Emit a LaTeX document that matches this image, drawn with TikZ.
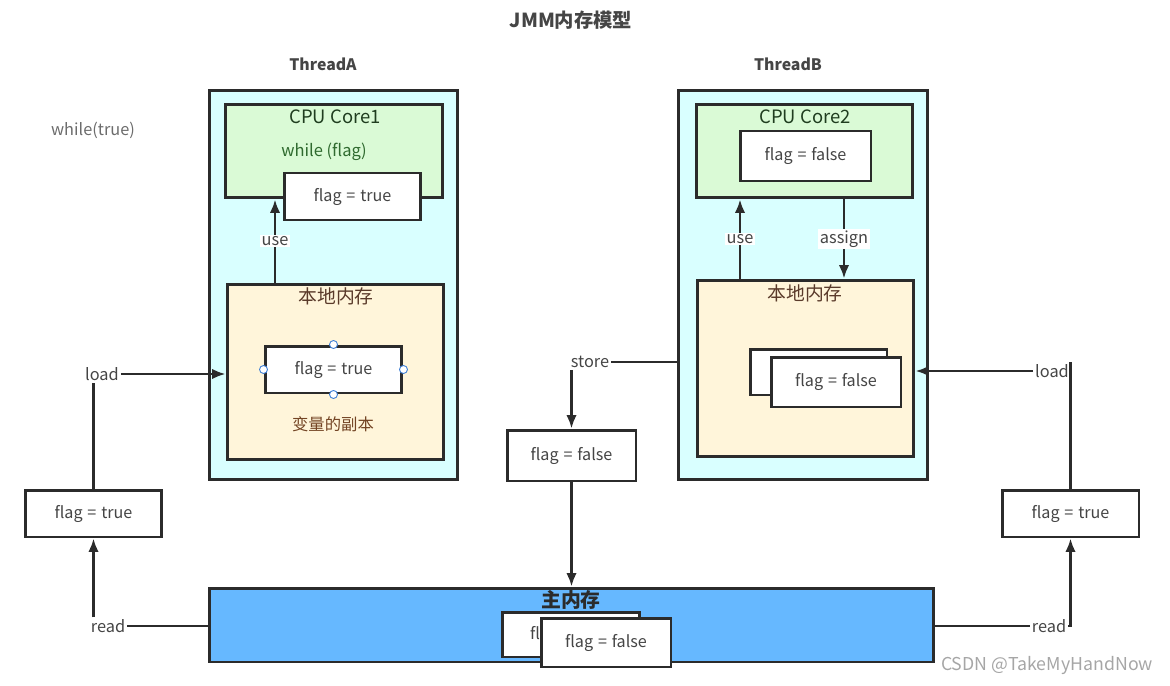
\documentclass[tikz,border=0pt]{standalone}
\usepackage{fontspec}
\newfontfamily\cjk{Noto Sans CJK SC}
\usetikzlibrary{arrows.meta}
\definecolor{edge}{HTML}{2B2B2B}
\definecolor{txt}{HTML}{454545}
\definecolor{threadbg}{HTML}{D9FFFF}
\definecolor{corebg}{HTML}{DAFAD6}
\definecolor{membg}{HTML}{FFF5DA}
\definecolor{mainbg}{HTML}{66B8FF}
\definecolor{coretxt}{HTML}{1F3D1F}
\definecolor{whiletxt}{HTML}{2F6A2F}
\definecolor{memtxt}{HTML}{5A3A2A}
\definecolor{handle}{HTML}{3D7FD6}
\def\fl#1{flag\hspace{0.3em}=\hspace{0.3em}#1}
\begin{document}
\begin{tikzpicture}[x=0.02cm,y=-0.02cm,
  blk/.style={draw=edge,line width=1.7pt,inner sep=0pt},
  flagbox/.style={blk,fill=white,text=txt,font=\cjk\fontsize{9.2}{11}\selectfont},
  lbl/.style={text=txt,font=\cjk\fontsize{9.3}{11}\selectfont,inner sep=1pt},
  lblbg/.style={lbl,fill=white},
  head/.style={text=txt,font=\cjk\bfseries\fontsize{9}{11}\selectfont},
  line/.style={draw=edge,line width=1.4pt},
  arr/.style={line,-{Latex[length=2.7mm,width=2.1mm]}},
  hdl/.style={circle,draw=handle,fill=white,line width=0.5pt,inner sep=0pt,minimum size=0.16cm}]
  \useasboundingbox (0,0) rectangle (1170,686);

  %%% titles
  \node[head,font=\cjk\bfseries\fontsize{11}{13}\selectfont] (title) at (571,20) {JMM内存模型};
  \node[head] (nameA) at (323,64) {ThreadA};
  \node[head] (nameB) at (788,64) {ThreadB};
  \node[lbl,text=gray!85!black] (loop) at (93,130) {while(true)};

  %%% ThreadA
  \node[blk,fill=threadbg,minimum width=4.98cm,minimum height=7.8cm] (threadA) at (333.5,285) {};
  \node[blk,fill=corebg,minimum width=4.36cm,minimum height=1.88cm] (coreA) at (334,151) {};
  \node[text=coretxt,font=\cjk\fontsize{10.5}{12}\selectfont] (coreAname) at (335,117) {CPU Core1};
  \node[text=whiletxt,font=\cjk\fontsize{9.4}{11}\selectfont] (whileA) at (324,152) {while (flag)};
  \node[flagbox,minimum width=2.74cm,minimum height=0.94cm] (flagA1) at (352.5,196.5) {\fl{true}};
  \node[blk,fill=membg,minimum width=4.34cm,minimum height=3.52cm] (memA) at (335.5,372) {};
  \node[text=memtxt,font=\cjk\fontsize{10.7}{12}\selectfont] (memAname) at (336,296) {本地内存};
  \node[flagbox,minimum width=2.74cm,minimum height=0.94cm] (flagA2) at (333.5,369.5) {\fl{true}};
  \node[text=memtxt!85!orange,font=\cjk\fontsize{9.3}{11}\selectfont] (copyA) at (333,424) {变量的副本};
  \foreach \a in {north,south,east,west}
    \node[hdl] at (flagA2.\a) {};
  \coordinate (ua) at (275,0);
  \draw[arr] (memA.north -| ua) -- node[lblbg] (useA) {use} (coreA.south -| ua);

  %%% ThreadB
  \node[blk,fill=threadbg,minimum width=5cm,minimum height=7.8cm] (threadB) at (803,285) {};
  \node[blk,fill=corebg,minimum width=4.34cm,minimum height=1.88cm] (coreB) at (804.5,151) {};
  \node[text=coretxt,font=\cjk\fontsize{10.5}{12}\selectfont] (coreBname) at (805,117) {CPU Core2};
  \node[flagbox,minimum width=2.62cm,minimum height=1cm] (flagB1) at (805.5,156) {\fl{false}};
  \node[blk,fill=membg,minimum width=4.34cm,minimum height=3.54cm] (memB) at (805.5,368.5) {};
  \node[text=memtxt,font=\cjk\fontsize{10.7}{12}\selectfont] (memBname) at (805,293) {本地内存};
  \node[flagbox,minimum width=2.74cm,minimum height=0.92cm] (flagB2back) at (818.5,372) {};
  \node[flagbox,minimum width=2.6cm,minimum height=1cm] (flagB2) at (836,382) {\fl{false}};
  \coordinate (ub) at (740,0);
  \coordinate (ab) at (844,0);
  \draw[arr] (memB.north -| ub) -- node[lblbg] (useB) {use} (coreB.south -| ub);
  \draw[arr] (coreB.south -| ab) -- node[lblbg] (assignB) {assign} (memB.north -| ab);

  %%% main memory
  \node[blk,fill=mainbg,minimum width=14.5cm,minimum height=1.48cm] (mainmem) at (571.5,625) {};
  \node[text=edge,font=\cjk\bfseries\fontsize{11.3}{13}\selectfont] (mainname) at (571,600) {主内存};
  \node[flagbox,minimum width=2.76cm,minimum height=0.9cm] (flagMback) at (571,634.5) {\fl{false}};
  \node[flagbox,minimum width=2.6cm,minimum height=0.98cm] (flagM) at (606,642.5) {\fl{false}};

  %%% store
  \node[flagbox,minimum width=2.58cm,minimum height=1.02cm] (flagS) at (571.5,455.5) {\fl{false}};
  \node[lbl] (store) at (590,362) {store};
  \draw[line] (threadB.west |- store) -- (store.east);
  \draw[arr] (store.south -| flagS.north) -- (flagS.north);
  \draw[arr] (flagS.south) -- (mainmem.north);

  %%% read / load A
  \node[flagbox,minimum width=2.74cm,minimum height=0.94cm] (flagL) at (93.5,513.5) {\fl{true}};
  \node[lbl] (loadL) at (102,374) {load};
  \node[lbl] (readL) at (108,626) {read};
  \draw[line] (mainmem.west |- readL) -- (readL.east);
  \draw[arr] (flagL.south |- readL.north) -- (flagL.south);
  \draw[line] (flagL.north) -- (flagL.north |- loadL.south);
  \draw[arr] (loadL.east) -- (loadL.east -| memA.west);

  %%% read / load B
  \node[flagbox,minimum width=2.74cm,minimum height=0.94cm] (flagR) at (1070.5,513.5) {\fl{true}};
  \node[lbl] (loadR) at (1052,371) {load};
  \node[lbl] (readR) at (1049,626) {read};
  \draw[line] (mainmem.east |- readR) -- (readR.west);
  \draw[arr] (readR.east) -| (flagR.south);
  \draw[line] (flagR.north) -- (flagR.north |- loadR.north);
  \draw[arr] (loadR.west) -- (loadR.west -| memB.east);

  \node[text=gray!70,font=\cjk\fontsize{10.1}{12}\selectfont] (mark) at (1047,666) {CSDN @TakeMyHandNow};
\end{tikzpicture}
\end{document}
